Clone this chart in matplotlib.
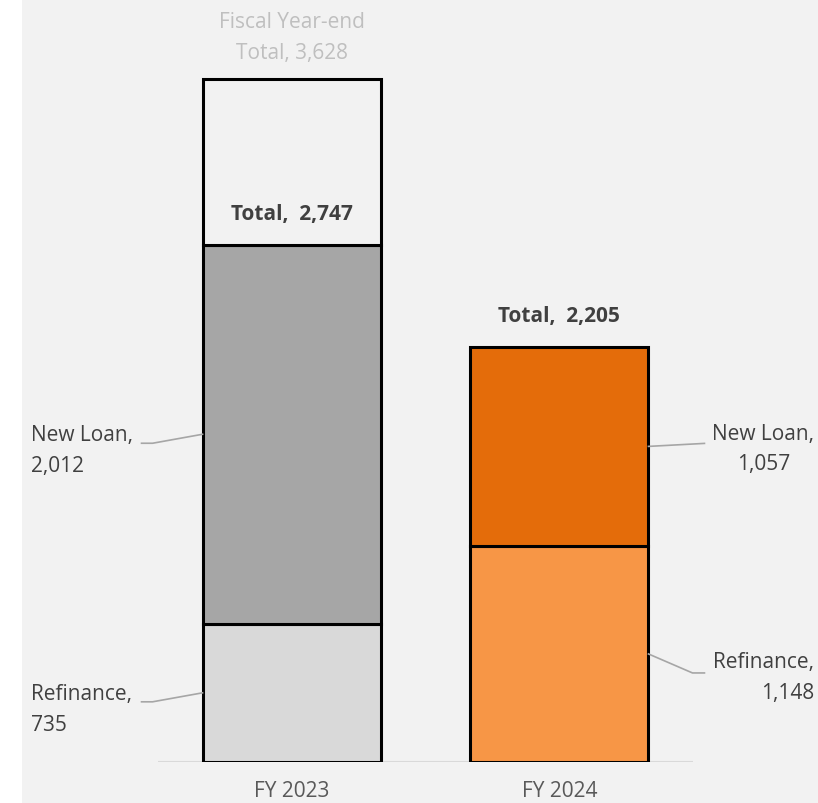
import matplotlib
matplotlib.use("Agg")
import matplotlib.pyplot as plt
from matplotlib.patches import Rectangle
from matplotlib.transforms import IdentityTransform

# data
years = ["FY 2023", "FY 2024"]
refinance = [735, 1148]
new_loan = [2012, 1057]
fiscal_total = 3628          # FY 2023 fiscal year-end total
refi_colors = ["#d9d9d9", "#f79646"]
loan_colors = ["#a6a6a6", "#e46c0a"]

plt.rcParams['font.family'] = ['Open Sans', 'DejaVu Sans']
TXT = "#404040"
LEADER = "#a6a6a6"
FS = 15
LS = 1.6

fig = plt.figure(figsize=(8.18, 8.04), dpi=100)
fig.patch.set_facecolor("white")
fig.patches.append(Rectangle((22 / 818, 0), 1, 1, transform=fig.transFigure,
                             facecolor="#f2f2f2", edgecolor="none", zorder=-10))

ax = fig.add_axes([158 / 818, 41 / 804, 535 / 818, 753 / 804])
ax.set_facecolor("none")
ax.set_xlim(-0.5, 1.5)
ax.set_ylim(0, 4000)
for s in ax.spines.values():
    s.set_visible(False)
ax.set_yticks([])
ax.set_xticks(range(len(years)))
ax.set_xticklabels(years, fontsize=FS, color="#595959")
ax.tick_params(axis="x", length=0, pad=13)
ax.axhline(0, color="#d9d9d9", lw=1.5, zorder=1)

x = list(range(len(years)))
width = 0.667
edge = dict(edgecolor="black", linewidth=2.2, zorder=3)
totals = [r + n for r, n in zip(refinance, new_loan)]

ax.bar(x, refinance, width, color=refi_colors, **edge)
ax.bar(x, new_loan, width, bottom=refinance, color=loan_colors, **edge)
ax.bar([0], [fiscal_total - totals[0]], width, bottom=[totals[0]],
       color="#f2f2f2", **edge)


def leader(anchor, offsets):
    # anchor in data coords, offsets in pixels (y up)
    ax0, ay0 = ax.transData.transform(anchor)
    xs = [ax0] + [ax0 + dx for dx, dy in offsets]
    ys = [ay0] + [ay0 + dy for dx, dy in offsets]
    line = plt.Line2D(xs, ys, color=LEADER, lw=1.2, transform=IdentityTransform(), zorder=4)
    fig.add_artist(line)


def seg_label(text, anchor, off, ha, malign):
    ax.annotate(text, xy=anchor, xytext=off, textcoords="offset pixels",
                ha=ha, va="center", multialignment=malign,
                fontsize=FS, color=TXT, linespacing=LS)


# FY 2023 labels (left side)
left = x[0] - width / 2
a = (left, refinance[0] + new_loan[0] / 2)
seg_label(f"New Loan,\n{new_loan[0]:,}", a, (-172, -16), "left", "left")
leader(a, [(-50, -9), (-61, -9)])
a = (left, refinance[0] / 2)
seg_label(f"Refinance,\n{refinance[0]:,}", a, (-172, -16), "left", "left")
leader(a, [(-50, -9), (-61, -9)])

# FY 2024 labels (right side)
right = x[1] + width / 2
a = (right, refinance[1] + new_loan[1] / 2)
seg_label(f"New Loan,\n{new_loan[1]:,}", a, (115, -2), "center", "center")
leader(a, [(56, 3)])
a = (right, refinance[1] / 2)
seg_label(f"Refinance,\n{refinance[1]:,}", a, (166, -23), "right", "right")
leader(a, [(44, -19), (56, -19)])

# totals
for xi, t in zip(x, totals):
    ax.annotate(f"Total,  {t:,}", xy=(xi, t), xytext=(0, 31), textcoords="offset pixels",
                ha="center", va="center", fontsize=FS, fontweight="bold", color=TXT)
ax.annotate(f"Fiscal Year-end\nTotal, {fiscal_total:,}", xy=(x[0], fiscal_total),
            xytext=(0, 42), textcoords="offset pixels", ha="center", va="center",
            fontsize=FS, color="#bfbfbf", linespacing=LS, annotation_clip=False)

fig.savefig("out.png", dpi=100)
